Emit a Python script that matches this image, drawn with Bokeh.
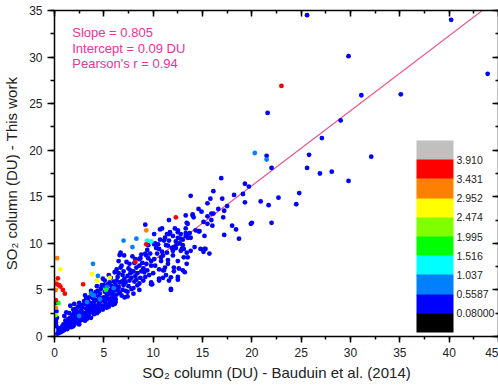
from bokeh.plotting import figure
from bokeh.models import (ColumnDataSource, LinearColorMapper, ColorBar, FixedTicker,
                          SingleIntervalTicker, LinearAxis, Range1d, CustomJSTickFormatter, Label,
                          CustomLabelingPolicy)
from bokeh.transform import transform
from bokeh.embed import file_html
from bokeh.resources import INLINE

# ---------------- data ----------------
fit_slope = 0.805
fit_intercept = 0.09
pearson_r = 0.94

bin_edges = [0.08, 0.5587, 1.037, 1.516, 1.995, 2.474, 2.952, 3.431, 3.910]
bin_colors = ["#000000", "#0000FF", "#0080FF", "#00FFFF", "#00FF00",
              "#80FF00", "#FFFF00", "#FF8000", "#FF0000", "#C0C0C0"]

# (Bauduin et al. 2014, this work) pairs, grouped by the colour of the dot
blue_core = [
    (0.3, 0.3), (0.4, 0.5), (0.5, 0.4), (0.5, 0.7), (0.6, 0.6), (0.4, 0.8), (0.7, 0.5), (0.6, 0.9),
    (0.15, 1.5), (0.2, 1.1), (0.25, 2.0), (0.13, 3.6), (0.2, 2.7), (0.15, 1.8),
    (0.8, 0.6), (0.9, 0.8), (1.0, 0.7), (1.0, 1.0), (1.1, 1.2), (0.9, 1.3), (1.2, 0.9), (1.2, 1.5),
    (0.8, 1.1), (1.1, 1.7), (1.0, 2.2), (1.3, 0.8),
    (1.4, 1.0), (1.5, 1.3), (1.6, 1.1), (1.5, 1.6), (1.7, 1.4), (1.4, 1.9), (1.8, 1.7), (1.6, 2.0),
    (1.7, 1.0), (1.8, 2.3), (1.5, 2.5), (1.6, 3.3), (2.0, 3.5),
    (2.0, 1.3), (2.1, 1.6), (2.0, 1.9), (2.2, 2.1), (2.3, 1.5), (2.1, 2.4), (2.4, 1.8), (2.3, 2.7),
    (2.4, 2.3), (2.2, 3.0), (2.0, 2.6), (2.4, 1.4),
    (2.6, 1.7), (2.7, 2.0), (2.6, 2.4), (2.8, 2.2), (2.9, 1.8), (2.7, 2.8), (3.0, 2.5), (2.8, 3.1),
    (2.9, 3.4), (2.6, 3.3), (3.0, 2.1), (2.8, 2.6), (2.5, 3.6), (3.0, 3.8),
    (3.2, 2.2), (3.3, 2.6), (3.2, 3.0), (3.4, 2.4), (3.5, 2.9), (3.3, 3.4), (3.6, 3.2), (3.4, 3.8),
    (3.5, 2.1), (3.6, 2.6), (3.2, 4.0), (3.5, 4.2), (3.6, 3.6), (3.3, 1.9),
    (3.8, 2.6), (3.9, 3.0), (4.0, 2.8), (3.8, 3.4), (4.1, 3.3), (4.0, 3.7), (3.9, 4.1), (4.2, 3.9),
    (4.2, 2.9), (4.1, 4.4), (3.8, 4.6), (4.0, 2.4), (4.2, 4.8),
    (4.4, 3.1), (4.5, 3.5), (4.6, 2.9), (4.4, 3.9), (4.7, 3.8), (4.5, 4.3), (4.8, 4.1), (4.6, 4.6),
    (4.8, 3.3), (4.4, 4.9), (4.7, 5.1), (4.5, 2.7), (4.8, 5.5),
    (5.0, 3.3), (5.1, 3.8), (5.2, 3.5), (5.0, 4.2), (5.3, 4.4), (5.1, 4.8), (5.4, 4.0), (5.2, 5.2),
    (5.4, 5.6), (5.0, 5.5), (5.3, 3.1), (5.1, 6.0), (5.4, 4.8),
    (5.6, 3.6), (5.7, 4.1), (5.8, 3.8), (5.6, 4.6), (5.9, 4.5), (5.7, 5.0), (6.0, 4.9), (5.8, 5.4),
    (6.0, 5.9), (5.6, 5.8), (5.9, 3.4), (5.7, 6.3), (6.0, 4.2),
    (6.2, 4.0), (6.3, 4.5), (6.4, 5.0), (6.2, 5.5), (6.5, 5.3), (6.3, 6.0), (6.6, 4.7), (6.4, 6.4),
    (6.6, 5.8), (6.2, 3.7), (6.5, 6.8), (6.3, 7.2),
    (6.8, 4.4), (6.9, 5.0), (7.0, 5.5), (6.8, 5.9), (7.1, 6.2), (6.9, 6.6), (7.2, 4.9), (7.0, 7.0),
    (7.2, 5.8), (6.8, 7.6), (7.1, 4.2), (7.0, 6.0),
    (7.4, 4.8), (7.5, 5.4), (7.6, 6.0), (7.4, 6.5), (7.7, 6.8), (7.5, 7.3), (7.8, 5.1), (7.6, 7.8),
    (7.8, 6.3), (7.4, 4.3), (7.7, 7.1),
    (8.0, 5.2), (8.1, 5.9), (8.2, 6.5), (8.0, 7.0), (8.3, 7.4), (8.1, 7.9), (8.4, 5.5), (8.2, 8.3),
    (8.4, 6.8), (8.0, 4.6), (8.3, 6.1),
    (8.6, 5.7), (8.7, 6.3), (8.8, 7.0), (8.6, 7.6), (8.9, 7.9), (8.7, 8.4), (9.0, 6.0), (8.8, 8.8),
    (9.0, 7.3), (8.6, 5.0),
    (9.2, 6.4), (9.4, 7.1), (9.3, 7.8), (9.5, 8.4), (9.2, 8.9), (9.6, 6.6), (9.8, 7.6), (9.7, 8.9),
    (9.4, 9.3), (9.8, 5.6), (9.5, 9.8),
    (1.9, 1.1), (2.5, 1.3), (3.1, 1.7), (3.7, 2.0), (4.3, 2.5), (4.9, 2.9), (5.5, 3.2), (6.1, 3.5),
    (1.2, 2.6), (1.9, 2.9), (2.4, 3.2), (3.1, 4.4), (3.7, 4.9), (4.3, 5.4), (4.9, 6.2), (5.5, 6.6),
    (6.1, 6.9), (6.7, 7.4), (7.3, 8.0), (7.9, 8.6),
]

blue_mid = [
    (10.0, 6.8), (10.2, 7.6), (10.1, 8.3), (10.4, 8.9), (10.3, 9.5), (10.6, 7.2), (10.8, 8.1),
    (10.5, 9.9), (10.9, 9.1), (10.7, 10.4), (11.0, 6.3), (10.2, 10.0), (11.0, 8.7),
    (11.2, 7.4), (11.4, 9.0), (11.3, 9.8), (11.6, 10.3), (11.5, 8.2), (11.8, 5.0), (11.9, 9.5),
    (12.0, 10.8), (11.7, 11.2), (12.1, 7.0), (11.3, 6.6),
    (12.4, 9.9), (12.5, 10.6), (12.7, 10.0), (12.8, 11.0), (12.9, 9.4), (13.0, 10.4), (12.6, 7.3),
    (13.2, 6.9), (13.3, 11.1), (13.5, 10.7), (13.4, 7.8), (12.2, 11.6), (13.1, 8.5),
    (10.1, 11.0), (10.9, 11.6), (11.4, 11.0), (12.3, 10.2), (12.8, 10.5), (13.0, 9.8), (12.0, 9.2),
    (11.2, 10.6), (13.5, 12.1), (14.3, 11.4), (11.6, 11.0), (12.5, 11.4), (13.3, 10.8), (13.8, 10.6),
    (11.1, 10.3), (10.1, 9.9), (10.6, 9.4), (11.5, 9.75), (12.1, 9.6), (12.8, 9.2), (13.4, 9.0),
    (12.0, 8.7), (12.5, 8.1), (13.5, 8.5), (10.8, 8.5), (11.5, 7.8), (12.1, 7.4), (9.8, 8.1),
    (9.3, 8.7), (8.6, 8.3), (7.05, 8.7), (6.7, 9.0), (6.5, 8.1), (11.0, 7.1), (11.8, 6.35),
    (12.5, 6.1), (11.8, 5.1), (10.6, 6.0), (9.8, 5.8), (9.1, 6.9), (11.6, 6.0), (12.5, 6.4),
    (13.0, 7.1), (11.1, 7.1), (10.6, 6.2), (9.9, 5.6), (12.3, 9.5), (13.1, 9.4), (14.2, 9.6),
    (15.2, 9.4), (13.8, 9.2), (15.7, 8.9), (13.7, 11.1), (14.7, 11.3),
]

blue_outliers = [
    (25.6, 34.5), (40.2, 34.0), (29.8, 30.1), (43.9, 28.2), (31.1, 25.9), (35.1, 26.0), (21.6, 24.0),
    (29.0, 23.2), (27.1, 21.3), (25.8, 19.5), (32.1, 19.3), (21.5, 19.4), (22.0, 18.1), (25.6, 18.1),
    (26.9, 17.5), (28.1, 17.7), (29.8, 16.7), (24.8, 15.4), (22.7, 14.9), (20.9, 14.5), (21.7, 14.1),
    (24.5, 14.2), (20.0, 12.2), (22.0, 12.2),
    (16.9, 17.0), (19.3, 16.4), (19.7, 16.1), (16.1, 15.6), (13.8, 15.1), (18.2, 15.2), (19.1, 15.3),
    (15.8, 14.8), (17.0, 14.8), (15.5, 14.3), (19.3, 14.4), (14.6, 13.7), (14.9, 13.4), (17.5, 14.0),
    (16.6, 13.7), (17.2, 13.5), (13.3, 13.0), (14.0, 13.1), (14.1, 12.8), (16.1, 13.2), (15.5, 12.9),
    (15.9, 12.5), (17.1, 12.8), (15.1, 12.3), (13.4, 12.2), (16.0, 11.9), (18.0, 11.9), (13.3, 11.6),
    (18.4, 11.5), (12.5, 11.2), (14.6, 11.3), (17.2, 10.9), (18.7, 10.5), (15.2, 10.8), (15.3, 9.4),
    (14.8, 9.4), (9.2, 12.0), (11.6, 12.5), (10.7, 11.5), (6.6, 8.75), (15.1, 9.1), (19.9, 12.1),
    (14.0, 13.0), (15.9, 13.2), (15.5, 12.1), (13.5, 10.6),
]

lightblue_points = [
    (20.3, 19.7), (21.5, 19.0), (7.0, 10.3), (8.3, 10.5), (7.9, 9.6), (3.9, 7.8), (4.4, 6.5),
    (3.7, 4.6), (3.3, 3.7), (4.6, 4.0), (5.3, 5.3), (2.5, 2.2), (6.0, 5.2), (4.0, 4.4),
]
cyan_points = [(9.4, 10.3), (9.8, 10.2)]
green_points = [(5.2, 5.0), (0.4, 3.6)]
yellowgreen_points = [(0.13, 2.3)]
yellow_points = [(0.6, 7.2), (3.8, 6.7), (4.3, 6.0), (5.6, 6.3)]
orange_points = [(0.27, 8.4), (9.3, 11.4), (0.13, 5.8), (0.13, 5.0), (0.13, 3.1)]
red_points = [
    (23.0, 26.9), (12.3, 12.8), (9.3, 9.9), (8.2, 8.0), (2.9, 5.6), (0.34, 6.25), (0.27, 5.6),
    (0.47, 5.5), (0.6, 5.36), (0.85, 5.0), (1.05, 4.6), (0.13, 3.9),
]

# colour value read for each group (falls inside the matching colour-scale bin)
groups = [
    (blue_core, 0.32), (blue_mid, 0.32), (blue_outliers, 0.32),
    (lightblue_points, 0.80), (cyan_points, 1.28), (green_points, 1.75),
    (yellowgreen_points, 2.23), (yellow_points, 2.71), (orange_points, 3.19), (red_points, 3.67),
]

xs, ys, vals = [], [], []
for pts, v in groups:
    for (a, b) in pts:
        xs.append(a)
        ys.append(b)
        vals.append(v)

source = ColumnDataSource(dict(x=xs, y=ys, value=vals))

step = bin_edges[1] - bin_edges[0]
mapper = LinearColorMapper(palette=bin_colors, low=bin_edges[0] - step, high=bin_edges[-1] + step)

FONT = "Liberation Sans"

p = figure(width=498, height=390, x_range=Range1d(0, 45), y_range=Range1d(0, 35),
           output_backend="svg", toolbar_location=None,
           min_border_left=54, min_border_right=0, min_border_top=10, min_border_bottom=54)
p.grid.visible = False
p.outline_line_color = None
p.background_fill_color = "white"

def style_axis(ax, outward=True, labels=True):
    ax.ticker = SingleIntervalTicker(interval=5, num_minor_ticks=2)
    ax.axis_line_width = 1.5
    ax.axis_line_color = "black"
    ax.major_tick_line_width = 1.5
    ax.minor_tick_line_width = 1.5
    ax.major_tick_line_color = "black"
    ax.minor_tick_line_color = "black"
    if outward:
        ax.major_tick_out = 6
        ax.major_tick_in = 0
        ax.minor_tick_out = 3
        ax.minor_tick_in = 0
    else:
        ax.major_tick_out = 0
        ax.major_tick_in = 6
        ax.minor_tick_out = 0
        ax.minor_tick_in = 3
    ax.major_label_text_font = FONT
    ax.major_label_text_color = "#222222"
    if labels:
        ax.major_label_text_font_size = "12px"
        ax.major_label_standoff = 5
    else:
        ax.major_label_text_font_size = "0px"
        ax.major_label_standoff = 0
        ax.axis_label_standoff = 0
        ax.major_label_policy = CustomLabelingPolicy(code="return [];")
    ax.axis_label_text_font = FONT
    ax.axis_label_text_font_style = "normal"
    ax.axis_label_text_font_size = "15px"
    ax.axis_label_text_color = "#222222"

style_axis(p.xaxis[0])
style_axis(p.yaxis[0])
p.yaxis[0].major_tick_out = 7
p.yaxis[0].minor_tick_out = 4
p.xaxis[0].axis_label = "SO\u2082 column (DU) - Bauduin et al. (2014)"
p.yaxis[0].axis_label = "SO\u2082 column (DU) - This work"
p.xaxis[0].axis_label_standoff = 4
p.yaxis[0].axis_label_standoff = 6

top_ax = LinearAxis()
right_ax = LinearAxis()
style_axis(top_ax, outward=False, labels=False)
style_axis(right_ax, outward=False, labels=False)
p.add_layout(top_ax, "above")
p.add_layout(right_ax, "right")

# regression line from the fit parameters
line_x = [0, 45]
line_y = [fit_intercept + fit_slope * v for v in line_x]
p.line(line_x, line_y, line_color="#EA5590", line_width=1.2)

p.scatter("x", "y", source=source, size=4.8, marker="circle",
          fill_color=transform("value", mapper), line_color=None)

text_color = "#E8339A"
for yy, txt in [(32.6, f"Slope = {fit_slope}"),
                (30.9, f"Intercept = {fit_intercept} DU"),
                (29.3, f"Pearson's r = {pearson_r}")]:
    p.add_layout(Label(x=1.8, y=yy, text=txt, text_font=FONT, text_font_size="13px",
                       text_color=text_color, text_baseline="middle"))

cb = ColorBar(color_mapper=mapper, ticker=FixedTicker(ticks=bin_edges),
              formatter=CustomJSTickFormatter(code="return tick.toPrecision(4);"),
              width=37, height=192, location=(362, 4), padding=0,
              background_fill_color=None, border_line_color=None, bar_line_color=None,
              major_tick_line_color=None, minor_tick_line_color=None,
              major_label_text_font=FONT, major_label_text_font_size="10.5px",
              major_label_text_color="#222222", label_standoff=3)
p.add_layout(cb)

open("out.html", "w").write(file_html(p, INLINE))
